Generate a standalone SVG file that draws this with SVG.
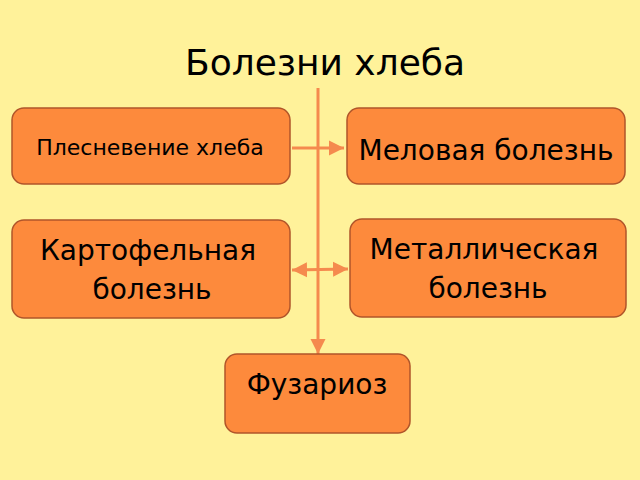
<svg xmlns="http://www.w3.org/2000/svg" width="640" height="480" viewBox="0 0 640 480">
<style>
.n{fill:#fd8a3c;stroke:#b0552a;stroke-width:1.5}
text{font-family:"DejaVu Sans",sans-serif;fill:#000;text-anchor:middle}
.c{stroke:#f58a4e;stroke-width:3;fill:none}
</style>
<defs><marker id="a" markerWidth="6" markerHeight="6" refX="5" refY="3" orient="auto-start-reverse" markerUnits="strokeWidth"><path d="M0,0.5 L5,3 L0,5.5z" fill="#f58a4e"/></marker></defs>
<rect width="640" height="480" fill="#fff29a"/>
<text x="325" y="75" font-size="36">Болезни хлеба</text>
<g id="connectors">
<line class="c" x1="318" y1="88" x2="318" y2="354" marker-end="url(#a)"/>
<line class="c" x1="292" y1="148" x2="344" y2="148" marker-end="url(#a)"/>
<line class="c" x1="292" y1="270" x2="348" y2="269" marker-start="url(#a)" marker-end="url(#a)"/>
</g>
<g id="n1"><rect class="n" x="12" y="108" width="278" height="76" rx="12"/><text x="150" y="155" font-size="22">Плесневение хлеба</text></g>
<g id="n2"><rect class="n" x="347" y="108" width="278" height="76" rx="12"/><text x="486" y="160" font-size="28">Меловая болезнь</text></g>
<g id="n3"><rect class="n" x="12" y="220" width="278" height="98" rx="12"/><text x="148" y="260" font-size="28">Картофельная</text><text x="152" y="299" font-size="28">болезнь</text></g>
<g id="n4"><rect class="n" x="350" y="219" width="276" height="98" rx="12"/><text x="484" y="259" font-size="28">Металлическая</text><text x="488" y="298" font-size="28">болезнь</text></g>
<g id="n5"><rect class="n" x="225" y="354" width="185" height="79" rx="12"/><text x="317" y="394" font-size="28">Фузариоз</text></g>
</svg>
